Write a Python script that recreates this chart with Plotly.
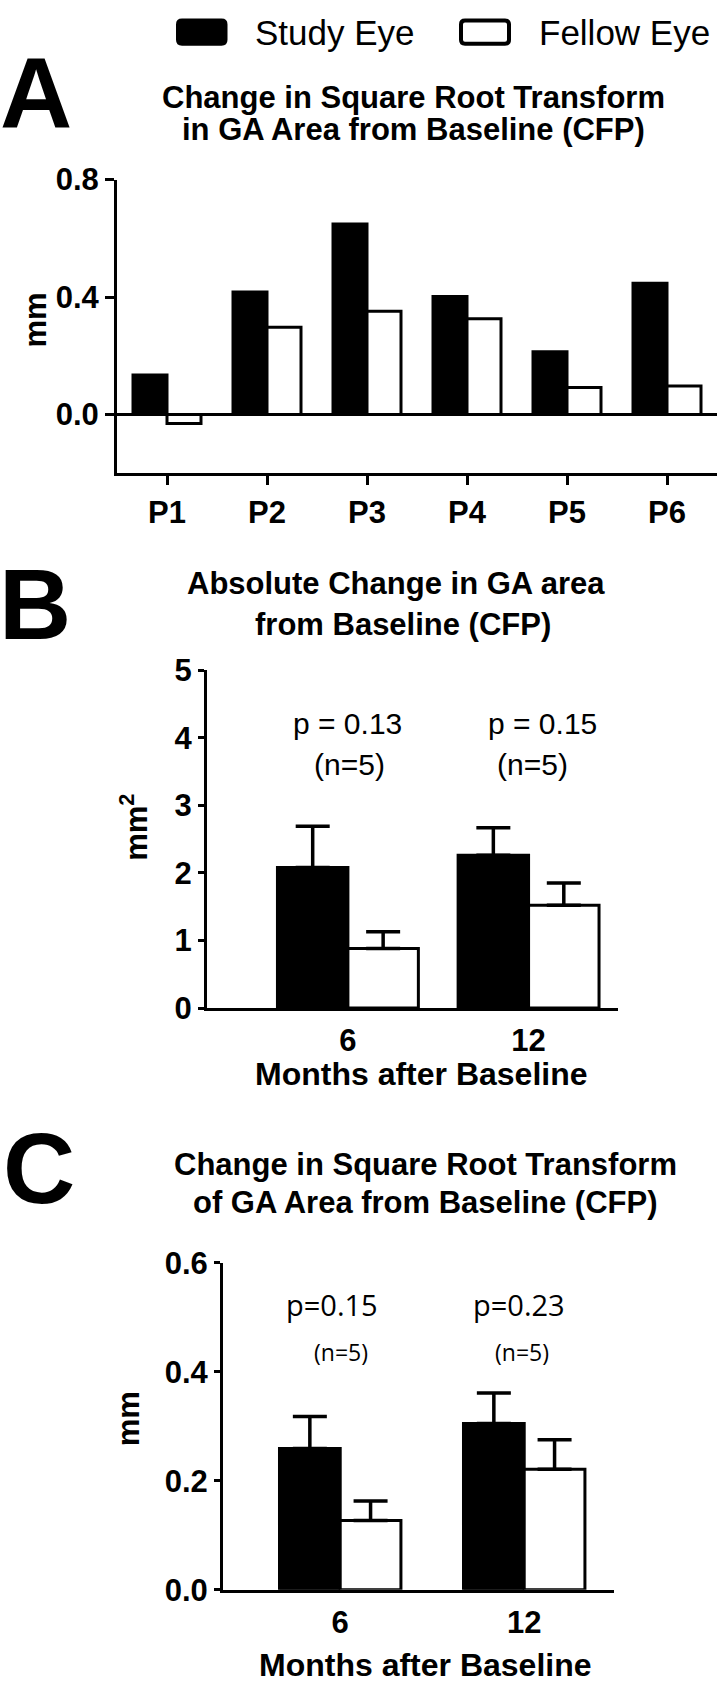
import plotly.graph_objects as go
from plotly.subplots import make_subplots

W, H = 718, 1691

# Panel A - per patient change (mm)
patients = ["P1", "P2", "P3", "P4", "P5", "P6"]
a_study = [0.135, 0.417, 0.649, 0.402, 0.214, 0.447]
a_fellow = [-0.03, 0.297, 0.352, 0.326, 0.092, 0.097]

# Panel B - absolute change in GA area (mm2), mean + SEM
months = ["6", "12"]
b_study = [2.08, 2.26]
b_study_sem = [0.61, 0.41]
b_fellow = [0.88, 1.52]
b_fellow_sem = [0.25, 0.33]
b_pvals = ["p = 0.13", "p = 0.15"]

# Panel C - square root transform (mm), mean + SEM
c_study = [0.259, 0.305]
c_study_sem = [0.059, 0.056]
c_fellow = [0.127, 0.221]
c_fellow_sem = [0.036, 0.054]
c_pvals = ["p=0.15", "p=0.23"]
n_label = "(n=5)"

FONT = "Liberation Sans, Arial, sans-serif"


def px(x):
    return x / W


def py(y):
    return 1 - y / H


def rrect(x0, y0, x1, y1, r):
    """rounded rectangle path (pixel coords -> paper)"""
    return (f"M {px(x0 + r)},{py(y0)} L {px(x1 - r)},{py(y0)} "
            f"Q {px(x1)},{py(y0)} {px(x1)},{py(y0 + r)} L {px(x1)},{py(y1 - r)} "
            f"Q {px(x1)},{py(y1)} {px(x1 - r)},{py(y1)} L {px(x0 + r)},{py(y1)} "
            f"Q {px(x0)},{py(y1)} {px(x0)},{py(y1 - r)} L {px(x0)},{py(y0 + r)} "
            f"Q {px(x0)},{py(y0)} {px(x0 + r)},{py(y0)} Z")


fig = make_subplots(rows=3, cols=1)

bar_line = dict(color="black", width=3)
err_style = dict(type="data", symmetric=False, color="black", thickness=3.5, width=17)

# A
fig.add_trace(go.Bar(x=list(range(6)), y=a_study, width=0.34, offset=-0.34,
                     marker=dict(color="black", line=bar_line), name="Study Eye"), row=1, col=1)
fig.add_trace(go.Bar(x=list(range(6)), y=a_fellow, width=0.34, offset=0,
                     marker=dict(color="white", line=bar_line), name="Fellow Eye"), row=1, col=1)

# B
fig.add_trace(go.Bar(x=[0, 1], y=b_study, width=0.39, offset=-0.39,
                     marker=dict(color="black", line=bar_line),
                     error_y=dict(err_style, array=b_study_sem, arrayminus=[0, 0])), row=2, col=1)
fig.add_trace(go.Bar(x=[0, 1], y=b_fellow, width=0.39, offset=0,
                     marker=dict(color="white", line=bar_line),
                     error_y=dict(err_style, array=b_fellow_sem, arrayminus=[0, 0])), row=2, col=1)

# C
fig.add_trace(go.Bar(x=[0, 1], y=c_study, width=0.33, offset=-0.33,
                     marker=dict(color="black", line=bar_line),
                     error_y=dict(err_style, array=c_study_sem, arrayminus=[0, 0])), row=3, col=1)
fig.add_trace(go.Bar(x=[0, 1], y=c_fellow, width=0.33, offset=0,
                     marker=dict(color="white", line=bar_line),
                     error_y=dict(err_style, array=c_fellow_sem, arrayminus=[0, 0])), row=3, col=1)

tick_font = dict(family=FONT, size=31, color="black", weight="bold")
axis_common = dict(showline=True, linewidth=3, linecolor="black", showgrid=False,
                   tickfont=tick_font, tickwidth=3, tickcolor="black")

# axis domains (pixel positions of the reference)
fig.update_xaxes(axis_common, domain=[px(117), px(717)], range=[-0.5, 5.5],
                 tickvals=list(range(6)), ticktext=patients, ticks="outside", ticklen=9,
                 zeroline=False, row=1, col=1)
fig.update_yaxes(axis_common, domain=[py(466), py(166)], range=[-0.2, 0.8],
                 tickvals=[0, 0.4, 0.8], tickformat=".1f", ticks="outside", ticklen=9,
                 zeroline=True, zerolinewidth=3, zerolinecolor="black", row=1, col=1)

fig.update_xaxes(axis_common, domain=[px(207), px(618)], range=[-0.78, 1.495],
                 tickvals=[0, 1], ticktext=months, ticks="outside", ticklen=3,
                 tickcolor="rgba(0,0,0,0)", zeroline=False, row=2, col=1)
fig.update_yaxes(axis_common, domain=[py(1012), py(667)], range=[0, 5], dtick=1,
                 ticks="outside", ticklen=6, zeroline=False, row=2, col=1)

fig.update_xaxes(axis_common, domain=[px(223), px(614)], range=[-0.637, 1.488],
                 tickvals=[0, 1], ticktext=months, ticks="outside", ticklen=3,
                 tickcolor="rgba(0,0,0,0)", zeroline=False, row=3, col=1)
fig.update_yaxes(axis_common, domain=[py(1606), py(1272)], range=[0, 0.6],
                 tickvals=[0, 0.2, 0.4, 0.6], tickformat=".1f", ticks="outside", ticklen=6,
                 zeroline=False, row=3, col=1)

annotations = []


def label(text, x, y, size, bold=True, family=FONT, angle=0, xanchor="center"):
    annotations.append(dict(text=text, x=px(x), y=py(y), xref="paper", yref="paper",
                            xanchor=xanchor, yanchor="middle", showarrow=False, textangle=angle,
                            font=dict(family=family, size=size, color="black",
                                      weight="bold" if bold else "normal")))


# panel letters
label("A", 36, 78, 100)
label("B", 35, 599, 100)
label("C", 39, 1175, 100)

# titles
label("Change in Square Root Transform", 413, 82, 31)
label("in GA Area from Baseline (CFP)", 413, 115, 31)
label("Absolute Change in GA area", 396, 578, 31)
label("from Baseline (CFP)", 403, 620, 31)
label("Change in Square Root Transform", 425, 1172, 31)
label("of GA Area from Baseline (CFP)", 425, 1211, 31)

# axis titles
label("mm", 36, 310, 31, angle=-90)
label("mm<sup>2</sup>", 134, 828, 31, angle=-90)
label("mm", 128, 1432, 31, angle=-90)
label("Months after Baseline", 421, 1079, 32)
label("Months after Baseline", 425, 1683, 32)

# legend
label("Study Eye", 253, 16, 35, bold=False, xanchor="left")
label("Fellow Eye", 537, 16, 35, bold=False, xanchor="left")

# p-values
for i in range(2):
    annotations.append(dict(text=b_pvals[i], x=[0, 1.077][i], y=4.21, xref="x2", yref="y2",
                            showarrow=False, font=dict(family=FONT, size=30, color="black")))
    annotations.append(dict(text=n_label, x=[0.01, 1.02][i], y=3.61, xref="x2", yref="y2",
                            showarrow=False, font=dict(family=FONT, size=30, color="black")))
    annotations.append(dict(text=c_pvals[i], x=[-0.046, 0.97][i], y=0.524, xref="x3", yref="y3",
                            showarrow=False, font=dict(family="Open Sans", size=29, color="black")))
    annotations.append(dict(text=n_label, x=[0.003, 0.99][i], y=0.436, xref="x3", yref="y3",
                            showarrow=False, font=dict(family="Open Sans", size=23, color="black")))

shapes = [
    dict(type="path", path=rrect(178, 3.7, 225.5, 27.3, 4), xref="paper", yref="paper",
         fillcolor="black", line=dict(color="black", width=4)),
    dict(type="path", path=rrect(461, 3.7, 509, 27.3, 4), xref="paper", yref="paper",
         fillcolor="white", line=dict(color="black", width=4)),
]

fig.update_layout(
    width=W, height=H,
    margin=dict(l=0, r=0, t=0, b=0),
    paper_bgcolor="white", plot_bgcolor="white",
    showlegend=False,
    annotations=annotations,
    shapes=shapes,
    font=dict(family=FONT, color="black"),
)

# page body has a default 8px margin - drop it so the figure fills the window
fig.write_html("out.html", config={"displayModeBar": False},
               post_script="document.body.style.margin = '0px';")
